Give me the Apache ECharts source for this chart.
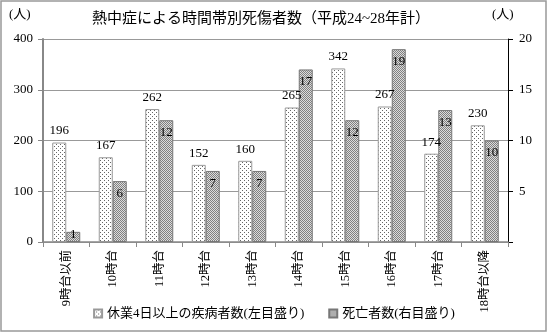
<!DOCTYPE html>
<html><head><meta charset="utf-8">
<script src="https://cdn.jsdelivr.net/npm/echarts@6/dist/echarts.min.js"></script>
<style>html,body{margin:0;padding:0;background:#fff}#c{width:548px;height:333px}</style>
</head><body><div id="c"></div>
<script>
const titleText = '熱中症による時間帯別死傷者数（平成24~28年計）';
const categories = ['9時台以前','10時台','11時台','12時台','13時台','14時台','15時台','16時台','17時台','18時台以降'];
const seriesNames = ['休業4日以上の疾病者数(左目盛り)','死亡者数(右目盛り)'];
const injured = [196,167,262,152,160,265,342,267,174,230];
const deaths = [1,6,12,7,7,17,12,19,13,10];
const leftTicks = {min:0, max:400, interval:100};
const rightTicks = {min:0, max:20, interval:5};

const FONT = "'Liberation Serif','Noto Sans CJK JP',serif";

function makePattern(w,h,draw){
  const c=document.createElement('canvas');c.width=w;c.height=h;
  const ctx=c.getContext('2d');draw(ctx);return c;
}
const dotPat = makePattern(4,4,ctx=>{
  ctx.fillStyle='#fff';ctx.fillRect(0,0,4,4);
  ctx.fillStyle='#666';ctx.fillRect(0,0,1,1);ctx.fillRect(2,2,1,1);
});
const hatchPat = makePattern(2,2,ctx=>{
  ctx.fillStyle='#dcdcdc';ctx.fillRect(0,0,2,2);
  ctx.fillStyle='#808080';ctx.fillRect(0,0,1,1);ctx.fillRect(1,1,1,1);
});

const chart = echarts.init(document.getElementById('c'),null,{renderer:'canvas'});
chart.setOption({
  animation:false,
  backgroundColor:'#fff',
  title:{text:titleText,left:256,top:7,textAlign:'center',
    textStyle:{fontFamily:FONT,fontSize:15,fontWeight:'normal',color:'#000'}},
  graphic:[
    {type:'rect',shape:{x:1,y:1,width:545,height:330},style:{fill:'none',stroke:'#999',lineWidth:1.5},z:-1},
    {type:'text',left:9,top:8,style:{text:'(人)',font:"13px "+FONT,fill:'#000'}},
    {type:'text',left:492,top:8,style:{text:'(人)',font:"13px "+FONT,fill:'#000'}}
  ],
  grid:{left:43,right:40,top:39,bottom:91},
  legend:{bottom:8,left:'center',itemWidth:8,itemHeight:8,itemGap:24,icon:'rect',
    textStyle:{fontFamily:FONT,fontSize:13,color:'#000'},
    data:seriesNames},
  xAxis:{type:'category',data:categories,
    axisLine:{lineStyle:{color:'#888',width:1.5}},
    axisTick:{show:true,length:5,lineStyle:{color:'#888'}},
    axisLabel:{rotate:90,fontFamily:FONT,fontSize:12.5,color:'#000',margin:8}},
  yAxis:[
    {type:'value',min:leftTicks.min,max:leftTicks.max,interval:leftTicks.interval,
      axisLine:{show:true,lineStyle:{color:'#888',width:2}},
      axisTick:{show:true,length:5,lineStyle:{color:'#888'}},
      splitLine:{lineStyle:{color:'#999',width:1}},
      axisLabel:{fontFamily:FONT,fontSize:13,color:'#000',margin:10}},
    {type:'value',min:rightTicks.min,max:rightTicks.max,interval:rightTicks.interval,
      axisLine:{show:true,lineStyle:{color:'#000',width:1}},
      axisTick:{show:true,length:5,lineStyle:{color:'#000'}},
      splitLine:{show:false},
      axisLabel:{fontFamily:FONT,fontSize:13,color:'#000',margin:11,
        formatter:v=>v===0?'':String(v)}}
  ],
  series:[
    {name:seriesNames[0],type:'bar',yAxisIndex:0,data:injured,barWidth:14,barGap:'0%',
      itemStyle:{color:{image:dotPat,repeat:'repeat'},borderColor:'#999',borderWidth:1},
      label:{show:true,position:'top',distance:5,fontFamily:FONT,fontSize:13,color:'#000'}},
    {name:seriesNames[1],type:'bar',yAxisIndex:1,barWidth:14,barGap:'0%',
      data:deaths.map(v=>v<3?{value:v,label:{position:'top',distance:-9}}:v),
      itemStyle:{color:{image:hatchPat,repeat:'repeat'},borderColor:'#777',borderWidth:1},
      label:{show:true,position:'insideTop',distance:6,fontFamily:FONT,fontSize:13,color:'#000'}}
  ]
});
</script></body></html>
